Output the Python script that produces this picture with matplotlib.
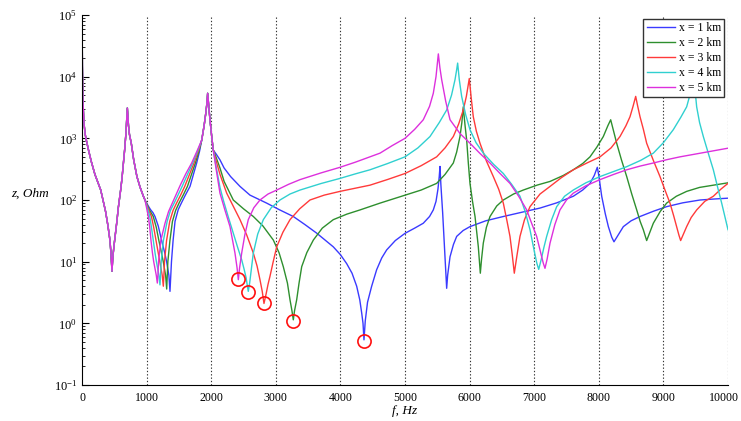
import matplotlib
matplotlib.use("Agg")
import matplotlib.pyplot as plt
from matplotlib.ticker import LogLocator, FixedLocator
from matplotlib.transforms import ScaledTranslation

plt.rcParams['font.family'] = ['Liberation Serif', 'DejaVu Serif']
plt.rcParams['mathtext.fontset'] = 'stix'
plt.rcParams['mathtext.default'] = 'regular'

# (f [Hz], z [Ohm])
# common low-frequency part (identical for all cables)
pts_low = [(0, 5.6), (2, 100000), (6, 15000), (15, 4000), (31, 1740), (50, 1150), (67, 933),
           (100, 650), (144, 420), (200, 260), (248, 190), (290, 145), (325, 100), (365, 65),
           (402, 38), (433, 22), (450, 13), (464, 7), (478, 12), (495, 18), (511, 25),
           (540, 45), (562, 75), (583, 110), (600, 150), (620, 230), (640, 380), (660, 650),
           (680, 1200), (695, 2200), (702, 3100), (710, 2300), (720, 1600), (735, 1150),
           (763, 830), (800, 450), (850, 240), (900, 160), (950, 115)]

# common part around the 1950 Hz resonance
pts_res2 = [(1853, 933), (1890, 1600), (1915, 2500), (1935, 3800), (1945, 5370), (1960, 3500),
            (1981, 2000), (2008, 1070), (2032, 646)]

pts_x1 = [(975, 100), (1020, 82), (1060, 70), (1100, 62), (1130, 54), (1180, 38), (1233, 22),
          (1280, 14), (1310, 10), (1345, 6), (1362, 3.3), (1372, 5.5), (1385, 10), (1410, 22),
          (1440, 45), (1490, 70), (1540, 90), (1600, 120), (1672, 166), (1720, 250),
          (1775, 398), (1820, 620)] + pts_res2 + [
          (2080, 550), (2136, 447), (2200, 330), (2300, 240), (2446, 166), (2600, 120),
          (2859, 89), (3050, 70), (3271, 54), (3450, 40), (3633, 29), (3890, 17.4),
          (4000, 13), (4097, 9.3), (4180, 6.5), (4252, 4.0), (4300, 2.4), (4330, 1.46),
          (4350, 1.0), (4365, 0.54), (4385, 1.1), (4420, 2.2), (4484, 4.0), (4561, 7.4),
          (4640, 11.5), (4716, 15.5), (4850, 22), (5000, 28.8), (5150, 35), (5283, 42),
          (5380, 54), (5438, 69), (5480, 95), (5510, 150), (5530, 240), (5542, 350),
          (5555, 180), (5570, 100), (5583, 62), (5600, 28), (5619, 12), (5635, 6),
          (5645, 3.7), (5660, 6), (5697, 12), (5750, 19), (5800, 25.7), (5900, 32),
          (6006, 37), (6250, 46), (6522, 54), (6800, 63), (7090, 74), (7350, 90),
          (7605, 115), (7750, 145), (7864, 186), (7930, 250), (7977, 339), (8000, 250),
          (8045, 115), (8100, 60), (8148, 37), (8200, 25), (8235, 21), (8290, 26),
          (8380, 37), (8500, 46), (8638, 54), (8850, 66), (9050, 78), (9300, 90),
          (9567, 100), (9800, 104), (10000, 107)]

pts_x2 = [(975, 100), (1010, 82), (1040, 70), (1070, 62), (1103, 54), (1150, 36), (1190, 22),
          (1230, 14), (1258, 10), (1294, 6), (1311, 3.6), (1320, 6), (1329, 10), (1361, 22),
          (1400, 45), (1450, 68), (1504, 90), (1570, 122), (1632, 166), (1700, 270),
          (1755, 398), (1810, 620)] + pts_res2 + [
          (2080, 480), (2136, 330), (2200, 200), (2342, 100), (2500, 72), (2652, 54),
          (2800, 38), (2962, 22.4), (3050, 14), (3116, 8.3), (3180, 4.5), (3220, 2.4),
          (3250, 1.6), (3271, 1.14), (3290, 1.6), (3323, 2.4), (3360, 4.5), (3401, 8.3),
          (3480, 14), (3581, 22.4), (3720, 35), (3890, 48), (4100, 59), (4303, 69),
          (4613, 89), (5000, 120), (5250, 145), (5490, 186), (5620, 260), (5700, 340),
          (5748, 398), (5800, 600), (5851, 1070), (5880, 1800), (5902, 3240), (5930, 1600),
          (5955, 933), (5980, 400), (6006, 186), (6045, 95), (6084, 54), (6110, 30),
          (6135, 17.4), (6155, 9), (6166, 6.5), (6185, 11), (6212, 20), (6260, 36),
          (6316, 54), (6420, 80), (6522, 100), (6680, 125), (6831, 145), (7050, 175),
          (7245, 200), (7450, 250), (7605, 309), (7750, 390), (7864, 501), (7970, 720),
          (8070, 1070), (8140, 1600), (8184, 2000), (8230, 1300), (8277, 832), (8350, 450),
          (8432, 240), (8510, 125), (8587, 69), (8640, 45), (8689, 33), (8741, 22),
          (8790, 30), (8844, 42), (8950, 65), (9050, 89), (9200, 115), (9360, 138),
          (9560, 160), (9773, 174), (10000, 190)]

pts_x3 = [(975, 100), (1000, 85), (1020, 74), (1050, 62), (1075, 54), (1110, 36), (1146, 22),
          (1180, 14), (1204, 10), (1242, 6), (1259, 4.0), (1268, 6), (1277, 10), (1309, 22),
          (1358, 45), (1410, 68), (1466, 90), (1530, 122), (1590, 166), (1670, 270),
          (1734, 398), (1800, 620)] + pts_res2 + [
          (2080, 420), (2136, 260), (2190, 180), (2240, 129), (2340, 80), (2446, 48),
          (2550, 27), (2652, 13.8), (2710, 8.5), (2755, 5.1), (2790, 3.3), (2817, 2.1),
          (2850, 3.0), (2880, 4.3), (2910, 5.8), (2960, 10), (3014, 17.4), (3110, 30),
          (3220, 48), (3370, 72), (3529, 100), (3750, 120), (3994, 138), (4230, 155),
          (4458, 174), (4730, 215), (5000, 269), (5250, 360), (5490, 501), (5620, 700),
          (5748, 1070), (5830, 1700), (5902, 2880), (5950, 4800), (5995, 9330), (6025, 4500),
          (6057, 2240), (6105, 1300), (6161, 832), (6260, 430), (6367, 240), (6450, 150),
          (6522, 89), (6580, 45), (6625, 25.7), (6660, 13), (6692, 6.5), (6730, 12),
          (6780, 25.7), (6850, 48), (6935, 78), (7090, 125), (7245, 166), (7420, 230),
          (7605, 309), (7820, 400), (8019, 501), (8190, 700), (8328, 1070), (8420, 1600),
          (8483, 2240), (8530, 3300), (8571, 4790), (8600, 3400), (8638, 2240), (8690, 1400),
          (8741, 832), (8840, 450), (8947, 240), (9030, 140), (9102, 89), (9160, 55),
          (9205, 37), (9240, 27), (9267, 22), (9310, 28), (9360, 37), (9430, 52),
          (9515, 69), (9640, 95), (9773, 115), (9890, 150), (10000, 186)]

pts_x4 = [(975, 100), (990, 88), (1010, 75), (1030, 64), (1049, 54), (1075, 36), (1103, 22),
          (1130, 14), (1152, 10), (1191, 6), (1207, 4.2), (1216, 6), (1226, 10), (1260, 22),
          (1318, 45), (1370, 68), (1429, 90), (1490, 122), (1550, 166), (1640, 270),
          (1714, 398), (1790, 620)] + pts_res2 + [
          (2080, 330), (2136, 160), (2187, 100), (2260, 55), (2342, 28.8), (2410, 17),
          (2472, 10.7), (2510, 7.5), (2540, 5.5), (2574, 3.3), (2595, 4.5), (2610, 6),
          (2652, 13.8), (2720, 28), (2807, 48), (2930, 75), (3065, 100), (3220, 125),
          (3375, 145), (3700, 185), (3994, 224), (4230, 265), (4458, 309), (4730, 390),
          (5000, 501), (5200, 700), (5387, 1070), (5530, 1800), (5645, 2880), (5720, 5000),
          (5774, 8910), (5800, 13000), (5815, 16600), (5840, 9000), (5877, 4790),
          (5940, 2400), (6006, 1380), (6100, 850), (6212, 575), (6370, 380), (6522, 269),
          (6650, 180), (6780, 115), (6860, 65), (6935, 33), (7000, 15), (7040, 9.5),
          (7070, 7.5), (7110, 11), (7150, 17), (7193, 25.7), (7270, 48), (7348, 78),
          (7470, 115), (7605, 145), (7800, 190), (8019, 240), (8230, 290), (8432, 347),
          (8650, 440), (8844, 575), (9000, 850), (9153, 1380), (9270, 2200), (9360, 3240),
          (9420, 5500), (9470, 10000), (9490, 6000), (9515, 3240), (9560, 1800),
          (9618, 1070), (9700, 550), (9773, 309), (9840, 160), (9902, 89), (9950, 55),
          (10000, 33)]

pts_x5 = [(975, 100), (1000, 75), (1027, 54), (1050, 35), (1068, 22), (1090, 14), (1110, 10),
          (1150, 6), (1166, 4.5), (1175, 6), (1185, 10), (1220, 22), (1285, 42), (1340, 65),
          (1400, 90), (1460, 125), (1517, 170), (1610, 270), (1698, 398),
          (1780, 620)] + pts_res2 + [
          (2080, 300), (2136, 129), (2210, 70), (2291, 37), (2340, 20), (2368, 13.8),
          (2400, 8), (2420, 5.1), (2440, 8), (2472, 13.8), (2520, 27), (2574, 48),
          (2660, 75), (2755, 100), (2880, 125), (3014, 145), (3200, 180), (3375, 214),
          (3700, 275), (3994, 339), (4230, 410), (4458, 501), (4613, 575), (4800, 760),
          (5000, 1000), (5150, 1400), (5283, 2000), (5380, 3300), (5438, 5370),
          (5480, 10000), (5516, 23400), (5540, 14000), (5568, 8910), (5630, 4000),
          (5697, 2000), (5850, 1200), (6006, 832), (6160, 570), (6316, 398), (6470, 270),
          (6625, 186), (6760, 115), (6884, 69), (6960, 42), (7038, 25.7), (7100, 14),
          (7140, 9.5), (7167, 7.8), (7200, 11), (7245, 20), (7320, 40), (7399, 69),
          (7500, 100), (7605, 129), (7800, 170), (8019, 214), (8230, 260), (8432, 309),
          (8640, 355), (8844, 398), (9050, 450), (9257, 501), (9630, 590), (10000, 692)]

labels = ['x = 1 km', 'x = 2 km', 'x = 3 km', 'x = 4 km', 'x = 5 km']
colors = ['#3a3aff', '#2e8f2e', '#ff3a3a', '#30d0d0', '#dd30dd']

# marked minima (red circles)
circle_f = [2420, 2574, 2817, 3271, 4365]
circle_z = [5.2, 3.2, 2.17, 1.11, 0.525]

x_ticks = [0, 1000, 2000, 3000, 4000, 5000, 6000, 7000, 8000, 9000, 10000]

fig = plt.figure(figsize=(7.41, 4.21), dpi=100)
ax = fig.add_axes([82 / 741, 1 - 385 / 421, 646 / 741, 370 / 421])

series = [pts_x1, pts_x2, pts_x3, pts_x4, pts_x5]
for pts, lab, col in zip(series, labels, colors):
    allp = pts_low + pts
    ax.plot([p[0] for p in allp], [p[1] for p in allp], color=col, lw=1.0, label=lab)

ax.plot(circle_f, circle_z, linestyle='none', marker='o', markersize=9.5,
        markerfacecolor='none', markeredgecolor='#ff1010', markeredgewidth=1.2)

ax.set_yscale('log')
ax.set_xlim(0, 10000)
ax.set_ylim(1e-1, 1e5)
ax.xaxis.set_major_locator(FixedLocator(x_ticks))
ax.yaxis.set_major_locator(LogLocator(base=10, numticks=10))
ax.yaxis.set_minor_locator(LogLocator(base=10, subs=range(2, 10), numticks=20))

for xv in x_ticks[1:]:
    ax.axvline(xv, color='#333333', linestyle=(0, (1.2, 1.8)), lw=0.8, zorder=0)

ax.spines['top'].set_visible(False)
ax.spines['right'].set_visible(False)
ax.tick_params(axis='y', which='major', direction='in', labelsize=9, length=5)
ax.tick_params(axis='y', which='minor', direction='in', length=2.5)
ax.tick_params(axis='x', which='major', direction='in', labelsize=8.6, length=0, pad=5)

# keep the last x tick label inside the figure
last_lbl = ax.xaxis.get_major_ticks()[-1].label1
last_lbl.set_transform(last_lbl.get_transform() +
                       ScaledTranslation(-4 / 100, 0, fig.dpi_scale_trans))

ax.set_xlabel('f, Hz', style='italic', fontsize=9.5)
ax.xaxis.set_label_coords(0.5, -0.055)
ax.set_ylabel('z, Ohm', style='italic', fontsize=9.5, rotation=0)
ax.yaxis.set_label_coords(-0.08, 0.5)

leg = ax.legend(loc='upper right', bbox_to_anchor=(1.0, 1.0), fontsize=8.5,
                fancybox=False, framealpha=1, edgecolor='#333333', borderaxespad=0.3,
                handlelength=2.4, handletextpad=0.3, labelspacing=0.25, borderpad=0.3)
leg.get_frame().set_linewidth(1.0)

fig.savefig('out.png', dpi=100)
